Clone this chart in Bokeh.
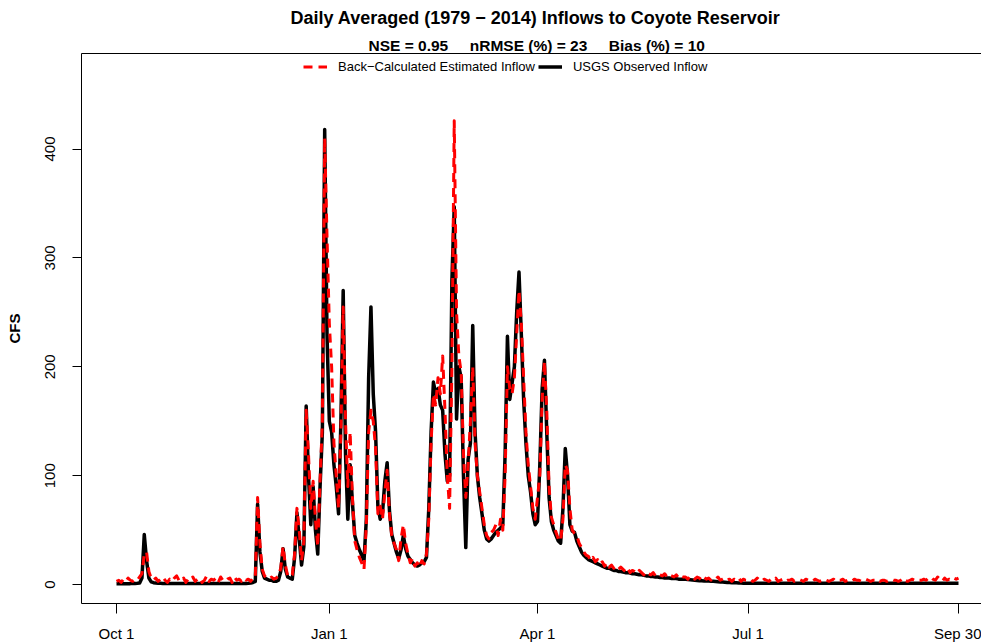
from bokeh.plotting import figure
from bokeh.models import Range1d, FixedTicker, LinearAxis, Legend, LegendItem, Title
from bokeh.embed import file_html
from bokeh.resources import INLINE

FONT = "Liberation Sans"

title_text = "Daily Averaged (1979 \u2212 2014) Inflows to Coyote Reservoir"
subtitle_text = "NSE = 0.95\u00a0\u00a0\u00a0\u00a0\u00a0nRMSE (%) = 23\u00a0\u00a0\u00a0\u00a0\u00a0Bias (%) = 10"
est_label = "Back\u2212Calculated Estimated Inflow"
obs_label = "USGS Observed Inflow"
y_label = "CFS"

tick_days = [0, 92, 182, 273, 364]
tick_labels = ["Oct 1", "Jan 1", "Apr 1", "Jul 1", "Sep 30"]
y_ticks = [0, 100, 200, 300, 400]

# USGS observed inflow (cfs), day 0 = Oct 1
obs = [
    # Oct 1-11
    0.8, 0.8, 0.8, 0.8, 0.9, 0.9, 0.9, 1.0, 1.0, 1.2, 1.5,
    # Oct 12-16
    6, 46, 22, 6, 2.5,
    # Oct 17 - Nov 29
    1.8, 1.5, 1.3, 1.2, 1.1, 1.0, 1.0, 1.0, 1.0, 1.0,
    1.0, 1.0, 1.0, 1.0, 1.0, 1.0, 1.0, 1.0, 1.0, 1.0,
    1.0, 1.0, 1.0, 1.0, 1.0, 1.0, 1.0, 1.0, 1.0, 1.0,
    1.0, 1.0, 1.0, 1.0, 1.0, 1.0, 1.0, 1.0, 1.0, 1.0,
    1.0, 1.2, 1.5, 2.0,
    # Nov 30 onwards
    3, 74, 30, 12,
    6, 5, 4, 4, 3, 3, 4,
    12, 33, 14,
    7, 6, 5,
    25, 66, 42, 18, 35,
    164, 100, 55, 90, 50, 28, 90, 140, 418,
    230, 150, 140, 110, 90, 65, 150,
    270, 120, 60, 110, 75, 45, 38, 32, 27, 22,
    60, 190, 255, 175, 140, 72, 60, 66, 95, 112,
    68, 46, 38, 30, 24, 32, 45, 33, 26, 23,
    20, 18, 17, 18, 20, 21, 25,
    # Feb 13 - Apr 22
    70, 140, 186, 175, 180, 165, 160, 120, 95, 100,
    280, 347, 152, 200, 190, 100, 34, 115, 130, 238,
    140, 100, 80, 65, 50, 42, 40, 42, 45, 48,
    50, 52, 55, 120, 228, 170, 185, 200, 250, 287,
    230, 170, 130, 100, 85, 65, 55, 58, 110, 180,
    206, 140, 80, 58, 50, 45, 40, 38, 70, 125,
    100, 55, 49, 48, 40, 35, 30, 27, 25,
    # Apr 23 - May 7
    23, 22, 21, 20, 19, 18, 17, 16, 15, 15, 14, 13, 13, 12, 12,
    # May 8 - Jun 3
    11.5, 11, 11, 10.5, 10, 10, 9.5, 9, 9, 8.5, 8, 8, 7.5, 7.5,
    7, 7, 6.5, 6.5, 6, 6, 6, 5.5, 5.5, 5.5, 5, 5, 5,
    # Jun 4 - Jun 30
    4.8, 4.6, 4.4, 4.2, 4, 3.8, 3.6, 3.5, 3.4, 3.3, 3.2, 3.1, 3.0, 2.8,
    2.6, 2.5, 2.4, 2.2, 2.0, 1.9, 1.8, 1.7, 1.6, 1.5, 1.4, 1.3, 1.3,
    # Jul 1 - Sep 30
    1.2, 1.2, 1.2, 1.2, 1.2, 1.2, 1.2, 1.2, 1.2, 1.2,
    1.2, 1.2, 1.2, 1.2, 1.2, 1.2, 1.2, 1.2, 1.2, 1.2,
    1.2, 1.2, 1.2, 1.2, 1.2, 1.2, 1.2, 1.2, 1.2, 1.2,
    1.2, 1.2, 1.2, 1.2, 1.2, 1.2, 1.2, 1.2, 1.2, 1.2,
    1.2, 1.2, 1.2, 1.2, 1.2, 1.2, 1.2, 1.2, 1.2, 1.2,
    1.2, 1.2, 1.2, 1.2, 1.2, 1.2, 1.2, 1.2, 1.2, 1.2,
    1.2, 1.2, 1.2, 1.2, 1.2, 1.2, 1.2, 1.2, 1.2, 1.2,
    1.2, 1.2, 1.2, 1.2, 1.2, 1.2, 1.2, 1.2, 1.2, 1.2,
    1.2, 1.2, 1.2, 1.2, 1.2, 1.2, 1.2, 1.2, 1.2, 1.2,
    1.2, 1.2,
]

# Back-calculated estimated inflow (cfs)
est = [
    3, 4, 2, 5, 3, 6, 4, 3, 5, 4, 7,
    10, 28, 30, 12, 6,
    4, 6, 3, 5, 7, 4, 2, 5, 3, 6,
    8, 4, 3, 6, 2, 5, 4, 7, 3, 5,
    6, 2, 4, 8, 3, 5, 4, 6, 2, 7,
    4, 3, 5, 6, 2, 7, 4, 5, 3, 6,
    4, 5, 3, 6,
    6, 80, 38, 14,
    8, 6, 5, 7, 5, 6, 8,
    15, 35, 18,
    8, 7, 9,
    28, 70, 50, 22, 40,
    160, 120, 70, 95, 60, 35, 95, 150, 410,
    320, 240, 200, 130, 100, 70, 140,
    255, 150, 90, 140, 80, 40, 32, 25, 20, 14,
    55, 140, 160, 150, 125, 65, 72, 60, 85, 105,
    65, 45, 38, 32, 22, 42, 55, 38, 28, 20,
    24, 17, 20, 16, 22, 19, 28,
    60, 130, 175, 165, 190, 175, 210, 160, 100, 70,
    200, 426, 250, 210, 195, 120, 80, 110, 150, 200,
    130, 100, 85, 70, 55, 45, 42, 48, 50, 55,
    45, 60, 50, 100, 200, 180, 175, 190, 230, 270,
    240, 190, 140, 110, 90, 70, 60, 80, 100, 170,
    205, 160, 90, 62, 55, 48, 42, 40, 60, 110,
    105, 70, 50, 47, 45, 38, 34, 30, 27,
    26, 22, 25, 21, 23, 19, 21, 17, 20, 16, 18, 15, 17, 14, 16,
    14, 12, 15, 11, 13, 12, 10, 13, 11, 9, 12, 10, 9, 11,
    8, 10, 9, 8, 10, 7, 9, 8, 7, 9, 6, 8, 7,
    7, 5, 8, 6, 5, 7, 6, 4, 7, 5, 6, 4, 6, 5,
    7, 4, 5, 6, 4, 5, 3, 5, 4, 6, 3, 5, 4,
    4, 5, 3, 4, 6, 4, 3, 5, 4, 3,
    5, 4, 6, 3, 4, 5, 3, 4, 4, 5,
    3, 4, 5, 4, 3, 5, 4, 4, 3, 5,
    4, 3, 4, 5, 4, 3, 4, 5, 3, 4,
    4, 5, 3, 4, 4, 3, 5, 4, 4, 3,
    4, 5, 4, 3, 4, 4, 5, 3, 4, 4,
    3, 4, 5, 4, 4, 3, 4, 6, 4, 3,
    4, 5, 4, 3, 4, 4, 5, 4, 6, 7,
    5, 4, 7, 5, 3, 6, 4, 5, 4, 6,
    5, 6,
]

obs_days = list(range(len(obs)))
est_days = list(range(len(est)))

p = figure(width=981, height=644, output_backend="svg", toolbar_location=None,
           x_range=Range1d(-15.13, 373.94), y_range=Range1d(-17.35, 487.7),
           min_border_left=81, min_border_right=0, min_border_top=53,
           min_border_bottom=38, title=None)
p.grid.visible = False
p.outline_line_color = None
p.background_fill_color = "white"
p.border_fill_color = "white"

# x axis
xa = p.xaxis[0]
xa.ticker = FixedTicker(ticks=tick_days)
xa.major_label_overrides = dict(zip(tick_days, tick_labels))
xa.major_tick_out = 10
xa.major_tick_in = 0
xa.minor_tick_line_color = None
xa.major_label_standoff = 11
xa.major_label_text_font = FONT
xa.major_label_text_font_size = "15px"
xa.major_label_text_color = "black"
xa.axis_line_color = "black"
xa.major_tick_line_color = "black"

# y axis
ya = p.yaxis[0]
ya.ticker = FixedTicker(ticks=y_ticks)
ya.major_tick_out = 9
ya.major_tick_in = 0
ya.minor_tick_line_color = None
ya.major_label_orientation = "vertical"
ya.major_label_standoff = 17
ya.major_label_text_font = FONT
ya.major_label_text_font_size = "15px"
ya.major_label_text_color = "black"
ya.axis_line_color = "black"
ya.major_tick_line_color = "black"
ya.axis_label = y_label
ya.axis_label_standoff = 20
ya.axis_label_text_font = FONT
ya.axis_label_text_font_size = "15px"
ya.axis_label_text_font_style = "bold"
ya.axis_label_text_color = "black"

# top border line
top = LinearAxis(ticker=FixedTicker(ticks=[]), major_tick_line_color=None,
                 minor_tick_line_color=None, axis_line_color="black",
                 major_label_text_font_size="0px")
p.add_layout(top, "above")

p.add_layout(Title(text=subtitle_text, align="left", offset=287, standoff=0,
                   text_font=FONT, text_font_size="15.5px", text_font_style="bold",
                   text_color="black"), "above")
p.add_layout(Title(text=title_text, align="left", offset=209, standoff=9,
                   vertical_align="top",
                   text_font=FONT, text_font_size="18px", text_font_style="bold",
                   text_color="black"), "above")

r_obs = p.line(obs_days, obs, line_color="black", line_width=3.5, line_join="round")
r_est = p.line(est_days, est, line_color="#ff0000", line_width=3, line_dash="9 6",
               line_join="round")

legend = Legend(items=[LegendItem(label=est_label, renderers=[r_est]),
                       LegendItem(label=obs_label, renderers=[r_obs])],
                orientation="horizontal", location=(222, 529),
                border_line_color=None, background_fill_alpha=0,
                padding=0, margin=0, spacing=3, label_standoff=11,
                glyph_width=24, glyph_height=15, label_height=15,
                label_text_font=FONT, label_text_font_size="13px",
                label_text_color="black")
p.add_layout(legend)

open("out.html", "w").write(file_html(p, INLINE))
